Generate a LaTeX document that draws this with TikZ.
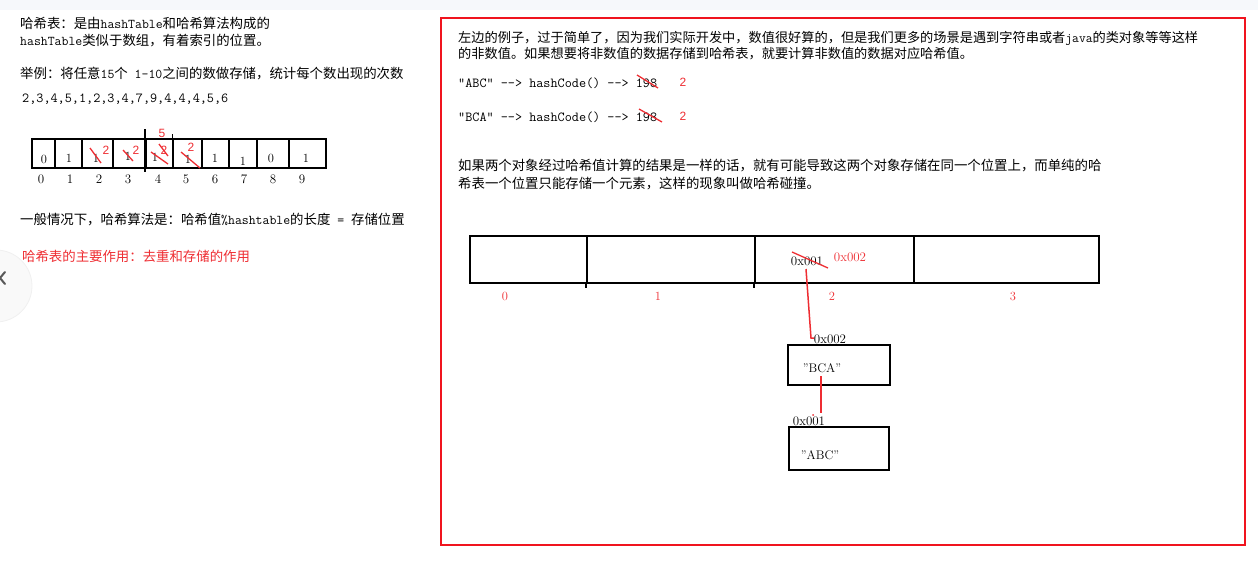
\documentclass[tikz,border=0pt]{standalone}
\usepackage{fontspec}
\newfontfamily\cjk{Noto Sans CJK SC}
\newfontfamily\lsans{Liberation Sans}
\definecolor{mred}{RGB}{238,45,50}
\definecolor{fred}{RGB}{240,20,30}
\definecolor{bandgray}{RGB}{246,248,251}
\begin{document}
\begin{tikzpicture}[x=1pt,y=-1pt,
  txt/.style={anchor=base west, inner sep=0pt, font=\cjk\fontsize{13.4}{16}\selectfont},
  mtxt/.style={txt, font=\cjk\fontsize{13.8}{16}\selectfont},
  rtxt/.style={txt, text=mred},
  num/.style={inner sep=0pt, font=\fontsize{12.5}{14}\selectfont},
  rnum/.style={inner sep=0pt, text=mred, font=\lsans\fontsize{12}{14}\selectfont},
  cell/.style={draw, line width=1.6pt, minimum height=29pt, inner sep=0pt},
  bigcell/.style={draw, line width=1.8pt, minimum height=47pt, inner sep=0pt},
  objbox/.style={draw, line width=1.5pt, inner sep=0pt},
  strike/.style={draw=mred, line width=1.3pt},
  redline/.style={draw=mred, line width=1.5pt},
  addr/.style={inner sep=0pt, font=\fontsize{13}{15}\selectfont},
  lbl/.style={inner sep=0pt, text=mred, font=\fontsize{12.5}{14}\selectfont}]
\useasboundingbox (0,0) rectangle (1258,560);
\fill[bandgray] (0,0) rectangle (1258,10);
% side button
\fill[gray!5] (-4,286) circle (36);
\draw[gray!12, line width=0.8pt] (-4,286) circle (36);
\draw[gray!70!black, line width=2pt, line cap=round, line join=round] (5,272) -- (0,278) -- (5,284);

% ---------- left column ----------
\node[txt] (l1) at (20,28) {哈希表：是由\texttt{hashTable}和哈希算法构成的};
\node[txt] (l2) at (20,45) {\texttt{hashTable}类似于数组，有着索引的位置。};
\node[txt] (l3) at (20,78) {举例：将任意\texttt{15}个\texttt{~1-10}之间的数做存储，统计每个数出现的次数};
\node[mtxt] (l4) at (22,102) {\texttt{2,3,4,5,1,2,3,4,7,9,4,4,4,5,6}};

% array cells
\node[cell, minimum width=23pt] (a0) at (43.5,153.5) {};
\node[cell, minimum width=27pt] (a1) at (68.5,153.5) {};
\node[cell, minimum width=31pt] (a2) at (97.5,153.5) {};
\node[cell, minimum width=33pt] (a3) at (129.5,153.5) {};
\node[cell, minimum width=27pt] (a4) at (159.5,153.5) {};
\node[cell, minimum width=29pt] (a5) at (187.5,153.5) {};
\node[cell, minimum width=27pt] (a6) at (215.5,153.5) {};
\node[cell, minimum width=28pt] (a7) at (243,153.5) {};
\node[cell, minimum width=32pt] (a8) at (273,153.5) {};
\node[cell, minimum width=37pt] (a9) at (307.5,153.5) {};
\draw[line width=1.6pt] (a4.north west) ++(0,-9) coordinate (s1) -- (a4.south west) coordinate (s2);
\draw[line width=1.6pt] (s2) -- ++(0,3);
\draw[line width=1.4pt] (a5.north west) -- ++(0,-4);

% cell values
\node[num] (v0) at (44,159) {0};
\node[num] (v1) at (69,158) {1};
\node[num] (v2) at (96,158) {1};
\node[num] (v3) at (128,156) {1};
\node[num] (v4) at (155,157) {1};
\node[num] (v5) at (188,159) {1};
\node[num] (v6) at (215,158) {1};
\node[num] (v7) at (243,161) {1};
\node[num] (v8) at (271,158) {0};
\node[num] (v9) at (306,158) {1};
% red corrections
\draw[strike] (90,148) -- (101,163);
\node[rnum] (r2) at (106,150) {2};
\draw[strike] (123,150) -- (133,161);
\node[rnum] (r3) at (136,150) {2};
\node[rnum] (r4) at (164,150) {2};
\draw[strike] (151,152) -- (168,164);
\draw[strike] (159,144) -- (168,156);
\node[rnum] (r4b) at (162,133) {5};
\draw[strike] (181,152) -- (200,168);
\node[rnum] (r5) at (191,147) {2};

% indices
\foreach \x/\i in {41/0,70/1,99/2,128/3,158/4,186/5,215/6,244/7,273/8,302/9}
  \node[num, font=\fontsize{13}{15}\selectfont] (i\i) at (\x,179) {\i};

\node[txt] (l5) at (20,224) {一般情况下，哈希算法是：哈希值\texttt{\%hashtable}的长度\texttt{~=~}存储位置};
\node[rtxt] (l6) at (22,261) {哈希表的主要作用：去重和存储的作用};

% ---------- right panel ----------
\draw[fred, line width=2pt] (441,18) rectangle (1245,545);

\node[txt, font=\cjk\fontsize{13.2}{16}\selectfont] (p1) at (458,42) {左边的例子，过于简单了，因为我们实际开发中，数值很好算的，但是我们更多的场景是遇到字符串或者\texttt{java}的类对象等等这样};
\node[txt, font=\cjk\fontsize{13.2}{16}\selectfont] (p2) at (458,58) {的非数值。如果想要将非数值的数据存储到哈希表，就要计算非数值的数据对应哈希值。};

\node[mtxt] (h1) at (458,87) {\texttt{”ABC”~-->~hashCode()~-->~198}};
\draw[strike] (637,75) -- (658,88);
\node[rnum] (h1r) at (683,82) {2};
\node[mtxt] (h2) at (458,121) {\texttt{”BCA”~-->~hashCode()~-->~198}};
\draw[strike] (639,109) -- (662,122);
\node[rnum] (h2r) at (683,116) {2};

\node[txt] (p3) at (458,170) {如果两个对象经过哈希值计算的结果是一样的话，就有可能导致这两个对象存储在同一个位置上，而单纯的哈};
\node[txt] (p4) at (458,188) {希表一个位置只能存储一个元素，这样的现象叫做哈希碰撞。};

% big table
\node[bigcell, minimum width=117pt] (t0) at (528.5,259.5) {};
\node[bigcell, minimum width=168pt] (t1) at (671,259.5) {};
\node[bigcell, minimum width=159pt] (t2) at (834.5,259.5) {};
\node[bigcell, minimum width=185pt] (t3) at (1006.5,259.5) {};
\draw[line width=1.6pt] (t1.south west) -- ++(0,4);
\draw[line width=1.6pt] (t2.south west) -- ++(0,4);
\node[lbl] (k0) at (505,296) {0};
\node[lbl] (k1) at (658,296) {1};
\node[lbl] (k2) at (832,296) {2};
\node[lbl] (k3) at (1013,296) {3};

\node[addr] (ad1) at (807,261) {0x001};
\draw[strike] (792,252) -- (828,268);
\node[addr, text=mred] (ad2) at (850,257) {0x002};

\node[addr] (ad3) at (830,339) {0x002};
\node[objbox, minimum width=102pt, minimum height=40pt] (bca) at (839,365) {};
\node[inner sep=0pt, font=\fontsize{12.5}{14}\selectfont] (bcat) at (822,368) {”BCA”};
\node[addr] (ad4) at (809,421) {0x001};
\node[objbox, minimum width=100pt, minimum height=43pt] (abc) at (839,448.5) {};
\node[inner sep=0pt, font=\fontsize{12.5}{14}\selectfont] (abct) at (820,455) {”ABC”};

\coordinate (c1) at (806,269);
\coordinate (c2) at (811,338);
\coordinate (c3) at (814,338);
\draw[redline] (c1) -- (c2) -- (c3);
\coordinate (c4) at (821,376);
\coordinate (c5) at (821,413);
\draw[redline] (c4) -- (c5);
\fill[mred] (813,415) circle (1);
\end{tikzpicture}
\end{document}
